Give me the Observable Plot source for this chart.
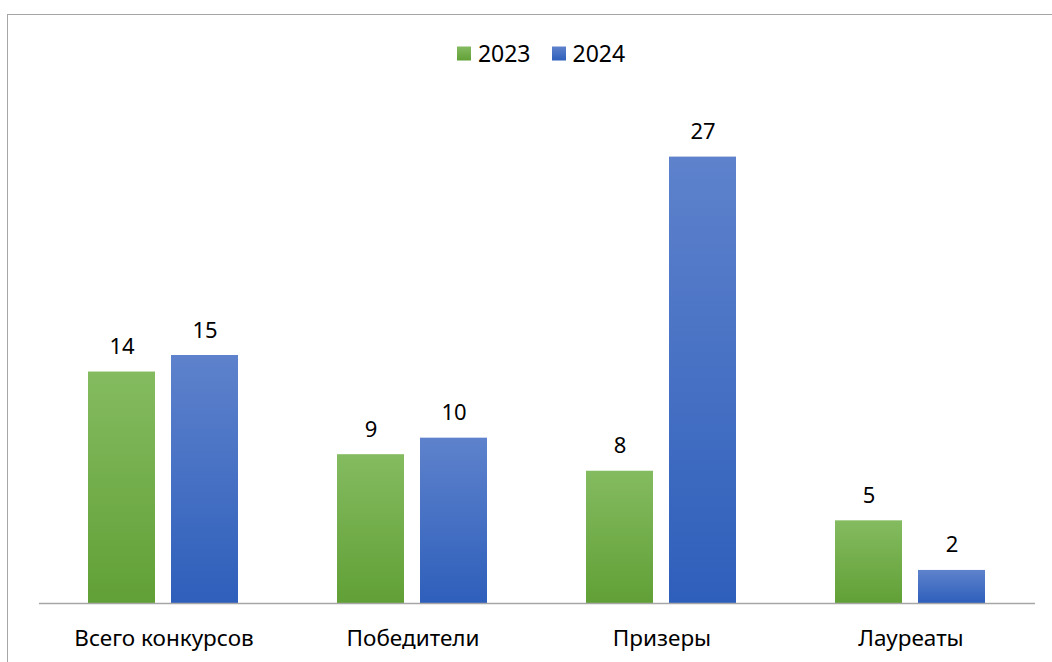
<!DOCTYPE html>
<html>
<head>
<meta charset="utf-8">
<script src="https://cdn.jsdelivr.net/npm/d3@7"></script>
<script src="https://cdn.jsdelivr.net/npm/@observablehq/plot@0.6"></script>
<style>
  html, body { margin: 0; padding: 0; background: #fff; }
  body { width: 1052px; height: 662px; overflow: hidden; position: relative; font-family: "Noto Sans", "Open Sans", sans-serif; }
  #frame { position: absolute; left: 7px; top: 14px; width: 1060px; height: 700px; border-left: 1.5px solid #a6a6a6; border-top: 1.5px solid #a6a6a6; box-sizing: border-box; pointer-events: none; }
  #legend { position: absolute; top: 53px; left: 15px; width: 1052px; display: flex; justify-content: center; gap: 21px; font-size: 23px; line-height: 1; color: #000; transform: translateY(-50%); }
  #legend .item { display: flex; align-items: center; gap: 7px; }
  #legend .sw { width: 14px; height: 14px; display: inline-block; }
  #chart { position: absolute; left: 0; top: 0; }
</style>
</head>
<body>
<div id="chart"></div>
<div id="frame"></div>
<div id="legend"></div>
<script>
const categories = ["Всего конкурсов", "Победители", "Призеры", "Лауреаты"];
const years = ["2023", "2024"];
const values2023 = [14, 9, 8, 5];
const values2024 = [15, 10, 27, 2];
const gradTop = {"2023": "#84bb60", "2024": "#5e82cc"};
const gradBottom = {"2023": "#61a036", "2024": "#2e5fbb"};

const data = [];
categories.forEach((c, i) => {
  data.push({category: c, year: "2023", value: values2023[i]});
  data.push({category: c, year: "2024", value: values2024[i]});
});

const plot = Plot.plot({
  width: 1052,
  height: 662,
  marginLeft: 37,
  marginRight: 16,
  marginTop: 107,
  marginBottom: 59,
  style: {fontFamily: "'Noto Sans', 'Open Sans', sans-serif", background: "transparent"},
  fx: {domain: categories, padding: 0, label: null, axis: null},
  x: {domain: years, paddingInner: 0.19, paddingOuter: 0.583, axis: null},
  y: {domain: [0, 30], axis: null},
  color: {domain: years, range: years.map(y => `url(#grad${y})`)},
  marks: [
    Plot.barY(data, {fx: "category", x: "year", y: "value", fill: "year"}),
    Plot.text(data, {fx: "category", x: "year", y: "value", text: d => String(d.value), lineAnchor: "middle", dy: -25, fontSize: 22, fill: "#000"}),
    Plot.ruleY([0], {stroke: "#a6a6a6", strokeWidth: 1.5}),
    Plot.axisFx({domain: categories, tickSize: 0, tickPadding: 35, fontSize: 22.5, lineAnchor: "middle", label: null, anchor: "bottom", fill: "#000"})
  ]
});

const ns = "http://www.w3.org/2000/svg";
const defs = document.createElementNS(ns, "defs");
years.forEach(y => {
  const g = document.createElementNS(ns, "linearGradient");
  g.setAttribute("id", `grad${y}`);
  g.setAttribute("x1", "0"); g.setAttribute("y1", "0");
  g.setAttribute("x2", "0"); g.setAttribute("y2", "1");
  const s1 = document.createElementNS(ns, "stop");
  s1.setAttribute("offset", "0"); s1.setAttribute("stop-color", gradTop[y]);
  const s2 = document.createElementNS(ns, "stop");
  s2.setAttribute("offset", "1"); s2.setAttribute("stop-color", gradBottom[y]);
  g.appendChild(s1); g.appendChild(s2);
  defs.appendChild(g);
});
plot.insertBefore(defs, plot.firstChild);
document.getElementById("chart").appendChild(plot);

const legend = document.getElementById("legend");
years.forEach(y => {
  const item = document.createElement("div");
  item.className = "item";
  const sw = document.createElement("span");
  sw.className = "sw";
  sw.style.background = `linear-gradient(${gradTop[y]}, ${gradBottom[y]})`;
  const t = document.createElement("span");
  t.textContent = y;
  item.appendChild(sw); item.appendChild(t);
  legend.appendChild(item);
});
</script>
</body>
</html>
